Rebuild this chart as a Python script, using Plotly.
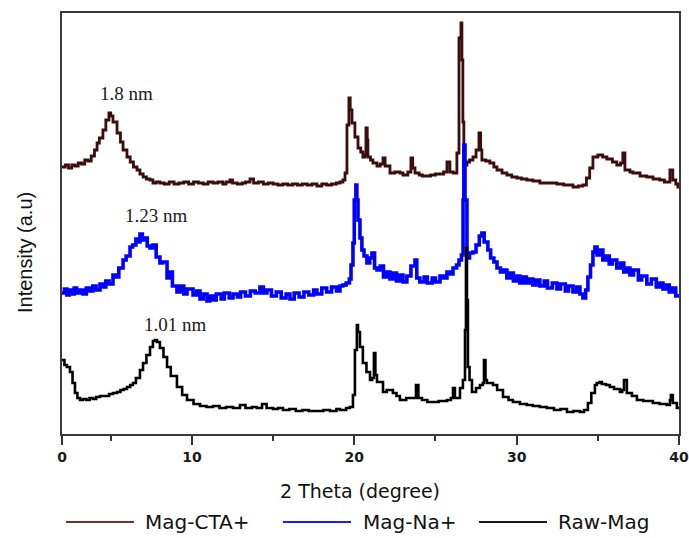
import plotly.graph_objects as go

# ---------------- data (2θ in degrees, intensity in arbitrary units) ----------------
cta_x = [2.0, 2.2, 2.4, 2.6, 2.8, 3.0, 3.2, 3.4, 3.6, 3.8, 4.0, 4.16, 4.3, 4.52, 4.7, 4.89, 5.0, 5.14,
         5.39, 5.6, 5.76, 6.0, 6.2, 6.4, 6.62, 6.8, 7.0, 7.2, 7.42, 7.6, 7.8, 8.03, 8.3, 8.6, 8.9, 9.2,
         9.5, 9.8, 10.1, 10.4, 10.7, 11.0, 11.3, 11.6, 11.9, 12.1, 12.34, 12.5, 12.8, 13.1, 13.3, 13.58,
         13.8, 14.1, 14.4, 14.7, 15.0, 15.3, 15.6, 15.9, 16.2, 16.5, 16.8, 17.1, 17.4, 17.7, 18.0, 18.3,
         18.6, 18.9, 19.12, 19.3, 19.43, 19.55, 19.67, 19.75, 19.86, 20.04, 20.23, 20.4, 20.53, 20.65,
         20.72, 20.8, 20.84, 21.0, 21.15, 21.4, 21.6, 21.77, 21.9, 22.2, 22.5, 22.81, 23.0, 23.3, 23.49,
         23.6, 23.74, 24.0, 24.2, 24.48, 24.7, 25.0, 25.28, 25.5, 25.71, 25.89, 26.1, 26.26, 26.32, 26.45,
         26.57, 26.63, 26.69, 26.75, 26.94, 27.1, 27.31, 27.5, 27.68, 27.78, 27.86, 28.1, 28.35, 28.6,
         28.79, 29.1, 29.4, 29.7, 30.02, 30.3, 30.63, 31.0, 31.43, 31.9, 32.48, 32.9, 33.47, 33.8, 34.08,
         34.3, 34.5, 34.7, 35.0, 35.3, 35.56, 35.9, 36.17, 36.4, 36.54, 36.67, 36.98, 37.16, 37.6, 38.02,
         38.4, 38.82, 39.1, 39.32, 39.44, 39.62, 39.8, 39.93, 40.0]
cta_y = [267, 269, 266, 269, 268, 271, 270, 274, 273, 278, 284, 291, 296, 304, 314, 321, 318, 312,
         301, 292, 284, 277, 272, 267, 264, 260, 257, 255, 254, 251, 252, 251, 250, 252, 250, 251,
         252, 250, 252, 251, 250, 252, 251, 252, 250, 252, 254, 251, 250, 251, 252, 255,
         251, 252, 250, 251, 250, 249, 250, 249, 250, 249, 250, 249, 250, 248, 250, 249,
         250, 251, 252, 254, 261, 309, 336, 324, 311, 297, 286, 282, 277, 279,
         306, 294, 277, 274, 271, 268, 270, 276, 268, 261, 262, 261, 259, 262, 276,
         266, 261, 259, 258, 258, 259, 260, 260, 262, 272, 262, 261, 261, 281, 396,
         411, 374, 312, 269, 272, 274, 277, 284, 301, 284, 274, 273, 271, 267,
         264, 261, 259, 257, 256, 255, 254, 253, 251, 251, 250, 249, 247, 248, 249,
         256, 266, 277, 279, 277, 275, 272, 269, 271, 281, 264, 262, 261, 258, 257,
         255, 254, 252, 252, 264, 254, 250, 247, 247]

na_x = [2.0, 2.15, 2.3, 2.45, 2.6, 2.75, 2.9, 3.11, 3.3, 3.5, 3.7, 3.9, 4.1, 4.34, 4.5, 4.7, 4.9, 5.14,
        5.3, 5.5, 5.76, 5.95, 6.19, 6.35, 6.55, 6.7, 6.8, 6.95, 7.1, 7.25, 7.42, 7.6, 7.8, 8.03, 8.2,
        8.47, 8.6, 8.8, 9.08, 9.3, 9.5, 9.7, 10.07, 10.3, 10.5, 10.7, 10.93, 11.1, 11.3, 11.5, 11.8,
        12.0, 12.3, 12.53, 12.8, 13.0, 13.3, 13.6, 13.9, 14.19, 14.4, 14.62, 14.9, 15.2, 15.5, 15.8,
        16.04, 16.3, 16.6, 16.9, 17.2, 17.5, 17.7, 18.0, 18.3, 18.6, 18.9, 19.12, 19.3, 19.5, 19.7,
        19.8, 19.92, 20.0, 20.1, 20.16, 20.23, 20.35, 20.47, 20.6, 20.78, 20.95, 21.09, 21.25, 21.4,
        21.6, 21.8, 22.0, 22.2, 22.4, 22.6, 22.8, 23.0, 23.24, 23.49, 23.74, 23.85, 24.04, 24.3, 24.5,
        24.8, 25.0, 25.28, 25.5, 25.71, 25.9, 26.08, 26.3, 26.45, 26.6, 26.7, 26.75, 26.82, 26.94,
        27.1, 27.31, 27.5, 27.7, 27.86, 28.0, 28.23, 28.4, 28.6, 28.79, 29.0, 29.2, 29.4, 29.6, 29.8,
        30.0, 30.2, 30.39, 30.6, 30.8, 31.0, 31.2, 31.43, 31.7, 31.9, 32.2, 32.48, 32.7, 33.0, 33.2,
        33.47, 33.7, 33.9, 34.08, 34.25, 34.39, 34.55, 34.7, 34.82, 34.95, 35.1, 35.31, 35.5, 35.7,
        35.9, 36.17, 36.4, 36.6, 36.8, 36.98, 37.2, 37.5, 37.7, 38.02, 38.3, 38.6, 38.8, 39.01, 39.2,
        39.4, 39.6, 39.8, 40.0]
na_y = [141, 145, 139, 144, 140, 146, 141, 144, 140, 146, 143, 148, 144, 150, 147, 153, 150, 159,
        157, 166, 174, 178, 187, 189, 195, 192, 200, 194, 196, 188, 186, 189, 177, 171, 172,
        156, 162, 148, 142, 148, 140, 145, 139, 143, 135, 140, 133, 138, 134, 140, 135,
        141, 136, 140, 137, 142, 138, 143, 141, 147, 141, 144, 138, 142, 136, 140,
        135, 141, 137, 142, 139, 144, 140, 146, 142, 147, 143, 148, 149, 151, 155,
        169, 191, 234, 249, 234, 214, 196, 184, 178, 171, 176, 181, 166, 164,
        168, 157, 162, 155, 161, 153, 159, 152, 158, 168, 174, 156, 152, 157, 151,
        156, 152, 158, 156, 162, 160, 166, 169, 174, 179, 234, 289, 234, 176,
        181, 182, 189, 198, 201, 192, 184, 176, 172, 166, 162, 164, 156, 161, 153,
        158, 151, 157, 151, 155, 149, 154, 148, 153, 146, 151, 145, 150, 143, 148,
        142, 147, 140, 136, 144, 157, 169, 182, 187, 179, 184, 174, 178, 170,
        174, 166, 171, 162, 166, 159, 164, 154, 158, 150, 155, 147, 151, 145, 149,
        142, 146, 138, 140]

raw_x = [2.0, 2.15, 2.3, 2.49, 2.65, 2.8, 2.95, 3.11, 3.3, 3.5, 3.7, 3.9, 4.1, 4.34, 4.6, 4.9, 5.14,
         5.39, 5.6, 5.8, 6.0, 6.2, 6.37, 6.55, 6.8, 6.99, 7.2, 7.42, 7.6, 7.73, 7.85, 8.03, 8.25, 8.47,
         8.7, 9.08, 9.4, 9.7, 10.1, 10.5, 10.9, 11.3, 11.7, 12.1, 12.53, 12.96, 13.3, 13.7, 14.0, 14.32,
         14.6, 15.0, 15.3, 15.61, 16.0, 16.4, 16.8, 17.2, 17.7, 18.1, 18.5, 18.9, 19.12, 19.5, 19.73,
         19.92, 20.04, 20.16, 20.23, 20.35, 20.53, 20.75, 20.97, 21.1, 21.21, 21.3, 21.4, 21.77, 22.0,
         22.38, 22.6, 22.81, 23.2, 23.61, 23.8, 23.95, 24.17, 24.5, 24.84, 25.2, 25.71, 25.95, 26.08,
         26.2, 26.38, 26.51, 26.69, 26.82, 26.88, 26.94, 27.0, 27.1, 27.25, 27.5, 27.74, 27.92, 27.99,
         28.08, 28.17, 28.54, 28.8, 29.16, 29.5, 29.77, 30.2, 30.63, 31.0, 31.43, 31.86, 32.3, 32.7,
         33.1, 33.5, 33.9, 34.15, 34.39, 34.6, 34.82, 34.94, 35.1, 35.25, 35.5, 35.74, 36.0, 36.36,
         36.5, 36.61, 36.79, 37.1, 37.41, 37.8, 38.39, 38.8, 39.25, 39.44, 39.5, 39.62, 39.87, 40.0]
raw_y = [74, 69, 67, 62, 51, 41, 36, 34, 35, 34, 36, 35, 37, 38, 38, 40, 41,
         42, 44, 45, 47, 49, 51, 56, 64, 71, 79, 87, 93, 94, 92, 86, 77, 67,
         58, 47, 39, 34, 30, 28, 27, 28, 26, 27, 26, 29, 26, 27, 26, 30,
         26, 25, 26, 24, 25, 23, 24, 23, 23, 24, 23, 25, 24, 26, 27,
         39, 84, 109, 102, 87, 71, 62, 54, 56, 81, 59, 52, 42, 44,
         41, 38, 34, 36, 36, 49, 36, 34, 32, 32, 33, 34, 36, 46,
         36, 36, 46, 54, 104, 186, 134, 67, 54, 42, 46, 49, 51, 74,
         54, 51, 49, 44, 37, 34, 32, 30, 29, 28, 27, 26, 24, 25,
         22, 23, 22, 24, 31, 41, 49, 51, 52, 50, 49, 47, 45, 42,
         44, 54, 41, 38, 34, 33, 31, 30, 29, 34, 39, 31, 26, 26]

series_names = ["Mag-CTA+", "Mag-Na+", "Raw-Mag"]
series_colors = ["#3d0c0c", "#0000ff", "#000000"]
legend_colors = ["#6e3434", "#1a1aff", "#1a1a1a"]

peak_labels = ["1.8 nm", "1.23 nm", "1.01 nm"]
peak_label_x = [6.0, 7.85, 9.02]
peak_label_y = [341, 219, 110]

x_tickvals = [2, 10, 20, 30, 40]
x_ticktext = ["0", "10", "20", "30", "40"]
x_minor = [5, 15, 25, 35]

# ---------------- figure ----------------
fig = go.Figure()
widths = [2.8, 3.6, 2.6]
for xs, ys, name, col, w in zip([cta_x, na_x, raw_x], [cta_y, na_y, raw_y],
                                series_names, series_colors, widths):
    fig.add_trace(go.Scatter(x=xs, y=ys, mode="lines", name=name,
                             line=dict(color=col, width=w, shape="hv"),
                             showlegend=False, hoverinfo="skip"))

annotations = []
for t, px, py in zip(peak_labels, peak_label_x, peak_label_y):
    annotations.append(dict(x=px, y=py, xref="x", yref="y", text=t, showarrow=False,
                            xanchor="center", yanchor="middle",
                            font=dict(family="Liberation Serif", size=19, color="#1a1a1a")))

W = 617.0
H = 421.0
def px_x(p):
    return (p - 62) / W
def px_y(p):
    return (434 - p) / H

# axis titles
annotations.append(dict(x=px_x(360), y=px_y(491), xref="paper", yref="paper",
                        xanchor="center", yanchor="middle",
                        text="2 Theta (degree)", showarrow=False,
                        font=dict(family="DejaVu Sans", size=19, color="#111")))
annotations.append(dict(x=px_x(25), y=px_y(253), xref="paper", yref="paper",
                        xanchor="center", yanchor="middle",
                        text="Intensity (a.u)", showarrow=False, textangle=-90,
                        font=dict(family="Liberation Sans", size=20, color="#111")))

# custom legend (long sample lines as in the original)
shapes = []
leg_line_x = [(66, 134), (283, 351), (479, 547)]
leg_text_x = [143, 361, 556]
leg_py = 522
for (a, b), tx, name, col in zip(leg_line_x, leg_text_x, series_names, legend_colors):
    shapes.append(dict(type="line", xref="paper", yref="paper",
                       x0=px_x(a), x1=px_x(b), y0=px_y(leg_py), y1=px_y(leg_py),
                       line=dict(color=col, width=2)))
    annotations.append(dict(x=px_x(tx), y=px_y(leg_py), xref="paper", yref="paper",
                            text=name, showarrow=False, xanchor="left", yanchor="middle",
                            font=dict(family="DejaVu Sans", size=20, color="#111")))

fig.update_layout(
    width=689, height=538,
    margin=dict(l=62, r=10, t=13, b=104, autoexpand=False),
    paper_bgcolor="white", plot_bgcolor="white",
    showlegend=False,
    annotations=annotations,
    shapes=shapes,
    xaxis=dict(range=[2, 40], tickvals=x_tickvals, ticktext=x_ticktext,
               ticks="outside", ticklen=9, tickwidth=1.5, tickcolor="#333",
               minor=dict(tickvals=x_minor, ticks="outside", ticklen=5, tickwidth=1.5, tickcolor="#333"),
               showline=True, linecolor="#3a3a3a", linewidth=2, mirror=True,
               showgrid=False, zeroline=False, automargin=False,
               tickfont=dict(family="DejaVu Sans", size=14, color="#1a1a1a", weight="bold"),
               ticklabelstandoff=0),
    yaxis=dict(range=[0, 421], showticklabels=False, ticks="",
               showline=True, linecolor="#3a3a3a", linewidth=2, mirror=True,
               showgrid=False, zeroline=False, automargin=False),
)

fig.write_html("out.html",
               config={"displayModeBar": False},
               post_script="document.body.style.margin='0';document.body.style.overflow='hidden';")
